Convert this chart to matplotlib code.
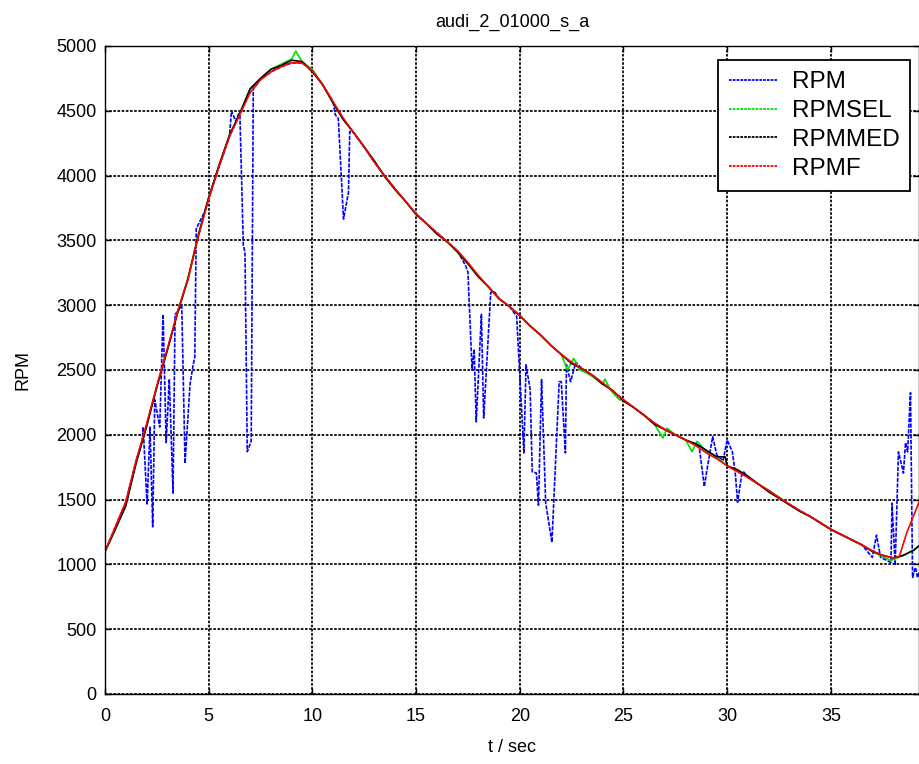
import matplotlib
matplotlib.use("Agg")
import matplotlib.pyplot as plt

plt.rcParams['font.family'] = ['Liberation Sans', 'DejaVu Sans']

title = "audi_2_01000_s_a"
xlabel = "t / sec"
ylabel = "RPM"
xticks = [0, 5, 10, 15, 20, 25, 30, 35]
yticks = [0, 500, 1000, 1500, 2000, 2500, 3000, 3500, 4000, 4500, 5000]

# RPMF (red, smoothed)
t_f = [0, 0.5, 1, 1.5, 2, 2.5, 3, 3.5, 4, 4.5, 5, 5.5, 6, 6.5, 7, 7.5, 8, 8.5, 9, 9.5,
       10, 10.5, 11, 11.5, 12, 12.5, 13, 13.5, 14, 14.5, 15, 15.5, 16, 16.5, 17, 17.5,
       18, 18.5, 19, 19.5, 20, 20.5, 21, 21.5, 22, 22.5, 23, 23.5, 24, 24.5, 25, 25.5,
       26, 26.5, 27, 27.5, 28, 28.5, 29, 29.5, 30, 30.5, 31, 31.5, 32, 32.5, 33, 33.5,
       34, 34.5, 35, 35.5, 36, 36.5, 37, 37.5, 38, 38.3, 38.65, 38.95, 39.3]
rpmf = [1100, 1290, 1480, 1800, 2080, 2380, 2660, 2950, 3200, 3530, 3820, 4070, 4300,
        4470, 4640, 4740, 4800, 4840, 4870, 4870, 4810, 4700, 4570, 4440, 4330, 4220,
        4100, 3995, 3895, 3800, 3705, 3630, 3560, 3490, 3420, 3330, 3230, 3140, 3050,
        2990, 2920, 2840, 2770, 2690, 2620, 2560, 2510, 2460, 2400, 2335, 2270, 2210,
        2150, 2090, 2040, 2000, 1960, 1915, 1860, 1815, 1760, 1715, 1670, 1620, 1570,
        1515, 1465, 1415, 1370, 1320, 1270, 1230, 1190, 1150, 1105, 1070, 1050, 1060,
        1240, 1360, 1500]

# RPMMED (black, median)
t_m = [0, 0.5, 1, 1.5, 2, 2.5, 3, 3.5, 4, 4.5, 5, 5.5, 6, 6.5, 7, 7.5, 8, 8.5, 9, 9.5,
       10, 10.5, 11, 11.5, 12, 12.5, 13, 13.5, 14, 14.5, 15, 15.5, 16, 16.5, 17, 17.5,
       18, 18.5, 19, 19.5, 20, 20.5, 21, 21.5, 22, 22.5, 23, 23.5, 24, 24.5, 25, 25.5,
       26, 26.5, 27, 27.5, 28, 28.5, 29, 29.5, 29.9, 30.0, 30.5, 31, 31.5, 32, 32.5, 33,
       33.5, 34, 34.5, 35, 35.5, 36, 36.5, 37, 37.5, 38, 38.5, 39, 39.3]
rpmmed = [1100, 1270, 1450, 1780, 2060, 2370, 2650, 2940, 3200, 3540, 3830, 4080, 4310,
          4480, 4670, 4750, 4820, 4850, 4890, 4880, 4800, 4700, 4560, 4430, 4330, 4220,
          4110, 3990, 3890, 3800, 3700, 3630, 3550, 3490, 3410, 3320, 3220, 3140, 3050,
          2990, 2920, 2840, 2770, 2690, 2620, 2550, 2510, 2460, 2390, 2340, 2260, 2210,
          2150, 2080, 2040, 2000, 1960, 1930, 1880, 1830, 1830, 1760, 1730, 1680, 1620,
          1560, 1510, 1460, 1410, 1370, 1320, 1270, 1230, 1190, 1150, 1100, 1070, 1050,
          1070, 1110, 1150]

# RPMSEL (green)
t_s = [0, 0.5, 1, 1.5, 2, 2.5, 3, 3.5, 4, 4.5, 5, 5.5, 6, 6.5, 7, 7.5, 8, 8.5, 9, 9.2,
       9.5, 10, 10.5, 11, 11.5, 12, 12.5, 13, 13.5, 14, 14.5, 15, 15.5, 16, 16.5, 17,
       17.5, 18, 18.5, 19, 19.5, 20, 20.5, 21, 21.5, 22, 22.3, 22.6, 22.9, 23.2, 23.5,
       24, 24.1, 24.4, 24.8, 25, 25.5, 26, 26.5, 26.9, 27.1, 27.5, 28, 28.3, 28.55, 29,
       29.5, 30, 30.5, 31, 31.5, 32, 32.5, 33, 33.5, 34, 34.5, 35, 35.5, 36, 36.5, 37,
       37.5, 37.9, 38.5, 39, 39.3]
rpmsel = [1100, 1280, 1460, 1790, 2070, 2370, 2650, 2950, 3210, 3540, 3830, 4080, 4310,
          4480, 4670, 4750, 4820, 4860, 4900, 4960, 4880, 4820, 4700, 4560, 4430, 4330,
          4220, 4110, 3990, 3890, 3800, 3700, 3630, 3550, 3490, 3410, 3320, 3220, 3140,
          3050, 2990, 2920, 2840, 2770, 2690, 2620, 2500, 2590, 2500, 2480, 2450, 2390,
          2430, 2340, 2270, 2270, 2210, 2150, 2080, 1975, 2050, 2000, 1960, 1870, 1950,
          1870, 1830, 1760, 1720, 1680, 1620, 1570, 1520, 1460, 1410, 1370, 1320, 1270,
          1230, 1190, 1150, 1100, 1060, 1030, 1070, 1110, 1150]

# RPM (blue, raw)
t_r = [0, 0.5, 1, 1.5, 1.8, 1.84, 2.03, 2.17, 2.3, 2.4, 2.64, 2.8, 2.95, 3.1, 3.28,
       3.38, 3.5, 3.7, 3.86, 4.1, 4.25, 4.33, 4.4, 4.8, 5, 5.5, 6.0, 6.1, 6.3, 6.5,
       6.67, 6.75, 6.86, 7.05, 7.15, 7.5, 8, 8.5, 9, 9.5, 10, 10.5, 11, 11.1, 11.25,
       11.5, 11.74, 11.8, 12, 12.5, 13, 13.5, 14, 14.5, 15, 15.5, 16, 16.5, 17, 17.4,
       17.5, 17.7, 17.8, 17.9, 18.15, 18.26, 18.6, 18.8, 19, 19.5, 19.85, 20.2, 20.3,
       20.5, 20.6, 20.8, 20.9, 21.05, 21.25, 21.55, 21.9, 22.0, 22.2, 22.25, 22.45,
       22.7, 23, 23.5, 24, 24.5, 25, 25.5, 26, 26.5, 27, 27.5, 28, 28.5, 28.65, 28.9,
       29.0, 29.3, 29.5, 29.8, 30.0, 30.25, 30.4, 30.5, 30.7, 30.8, 31, 31.5, 32, 32.5,
       33, 33.5, 34, 34.5, 35, 35.5, 36, 36.5, 37, 37.2, 37.4, 37.9, 37.95, 38.1,
       38.26, 38.5, 38.6, 38.7, 38.84, 38.94, 39.08, 39.18, 39.3]
rpm = [1100, 1290, 1480, 1800, 1960, 2060, 1460, 2060, 1290, 2270, 2060, 2930, 1940,
       2430, 1550, 2930, 2950, 3000, 1780, 2390, 2540, 2600, 3590, 3720, 3820, 4070,
       4300, 4500, 4420, 4500, 3460, 3410, 1870, 1950, 4670, 4740, 4800, 4840, 4870,
       4870, 4810, 4700, 4570, 4470, 4440, 3665, 3870, 4340, 4330, 4220, 4100, 3995,
       3895, 3800, 3705, 3630, 3560, 3490, 3420, 3300, 3255, 2500, 2660, 2100, 2930,
       2130, 3100, 3100, 3050, 2990, 2915, 1860, 2540, 2350, 1715, 1705, 1457, 2426,
       1473, 1170, 2410, 2410, 1860, 2540, 2410, 2560, 2510, 2460, 2400, 2335, 2270,
       2210, 2150, 2090, 2040, 2000, 1960, 1920, 1907, 1600, 1705, 1985, 1845, 1800,
       1960, 1870, 1690, 1480, 1690, 1713, 1670, 1620, 1570, 1515, 1465, 1415, 1370,
       1320, 1270, 1230, 1190, 1150, 1054, 1225, 1054, 1015, 1473, 992, 1868, 1705,
       1938, 1868, 2325, 899, 977, 899, 950]

fig = plt.figure(figsize=(9.2, 7.64), dpi=100)
ax = fig.add_axes([105 / 920, 70 / 764, 814 / 920, 648 / 764])

ax.plot(t_r, rpm, color='#0000ff', lw=1.2, ls=(0, (2.5, 0.8)), label='RPM')
ax.plot(t_s, rpmsel, color='#00e000', lw=1.2, label='RPMSEL')
ax.plot(t_m, rpmmed, color='black', lw=1.2, label='RPMMED')
ax.plot(t_f, rpmf, color='#ff0000', lw=1.2, label='RPMF')

ax.set_xlim(0, 39.25)
ax.set_ylim(0, 5000)
ax.set_xticks(xticks)
ax.set_yticks(yticks)
ax.tick_params(direction='in', top=True, right=True, labelsize=13, length=4,
               width=1, colors='black')
ax.tick_params(axis='x', pad=10)
ax.tick_params(axis='y', pad=6)
ax.grid(True, color='black', ls=(0, (1.5, 0.9)), lw=1.25)
for s in ax.spines.values():
    s.set_color('black')
    s.set_linewidth(1.0)

ax.set_title(title, fontsize=13, pad=14)
ax.set_xlabel(xlabel, fontsize=13, labelpad=10)
ax.set_ylabel(ylabel, fontsize=13, labelpad=18)

leg = ax.legend(loc='upper right', bbox_to_anchor=(0.9895, 0.978), fontsize=17.5,
                fancybox=False, framealpha=1, edgecolor='black', handlelength=2.0,
                handletextpad=0.6, borderpad=0.45, labelspacing=0.28,
                borderaxespad=0)
leg.get_frame().set_linewidth(1.3)
for line in leg.get_lines():
    line.set_linewidth(1.3)
    line.set_linestyle((0, (1.5, 0.6)))

fig.savefig("out.png", dpi=100)
